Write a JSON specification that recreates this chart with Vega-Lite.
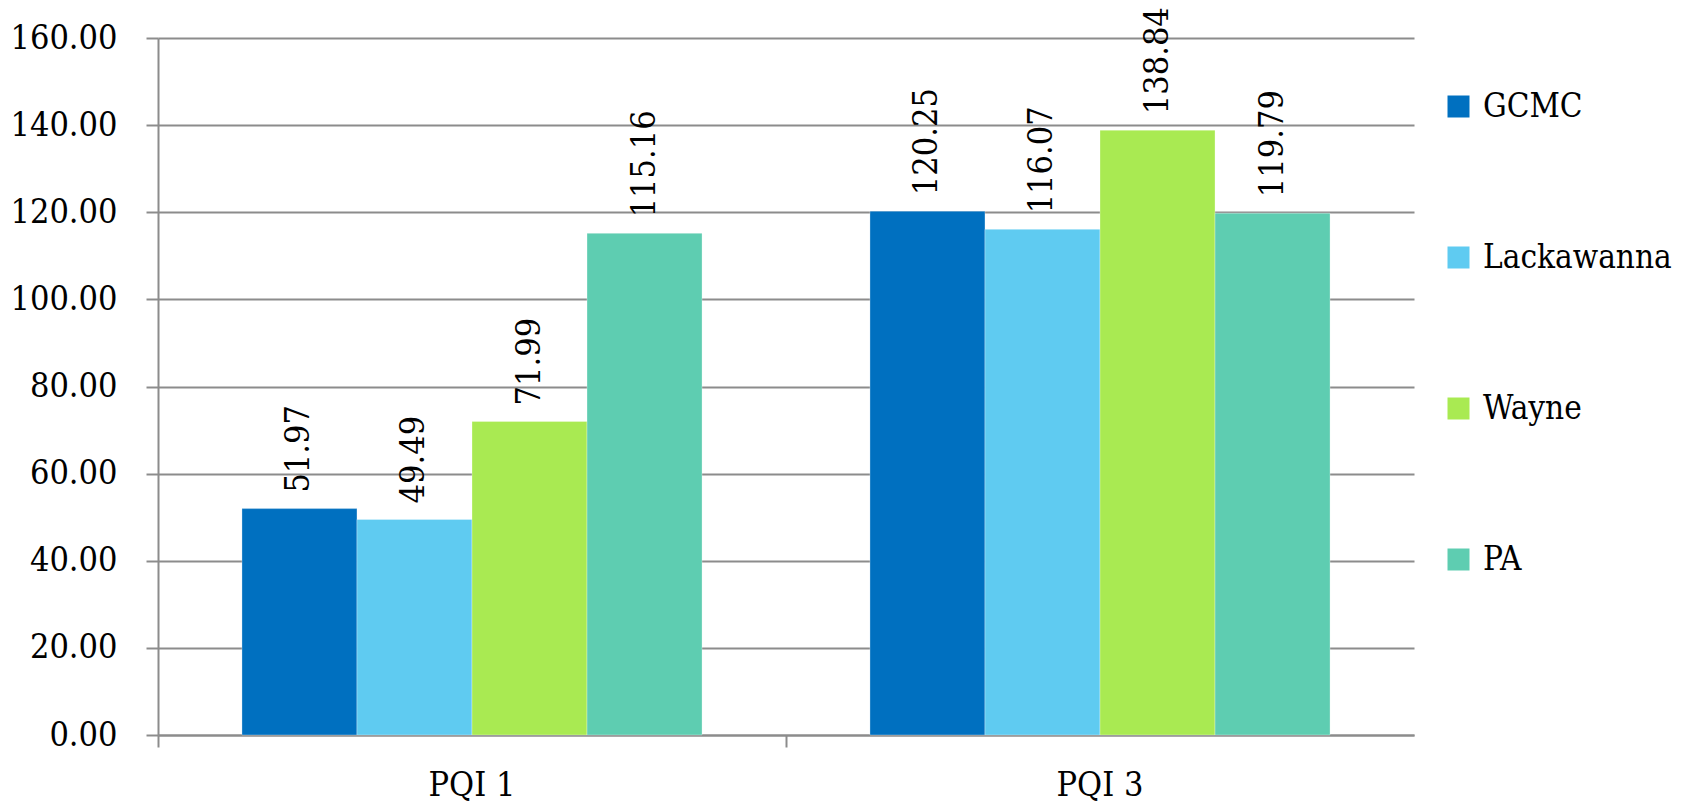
{
  "$schema": "https://vega.github.io/schema/vega-lite/v6.json",
  "width": 1256,
  "height": 697,
  "autosize": {"type": "none"},
  "padding": {"left": 158, "top": 38, "right": 288, "bottom": 73},
  "background": "white",
  "config": {
    "font": "DejaVu Serif Condensed",
    "view": {"stroke": null}
  },
  "data": {
    "values": [
      {"indicator": "PQI 1", "area": "GCMC", "rate": 51.97},
      {"indicator": "PQI 1", "area": "Lackawanna", "rate": 49.49},
      {"indicator": "PQI 1", "area": "Wayne", "rate": 71.99},
      {"indicator": "PQI 1", "area": "PA", "rate": 115.16},
      {"indicator": "PQI 3", "area": "GCMC", "rate": 120.25},
      {"indicator": "PQI 3", "area": "Lackawanna", "rate": 116.07},
      {"indicator": "PQI 3", "area": "Wayne", "rate": 138.84},
      {"indicator": "PQI 3", "area": "PA", "rate": 119.79}
    ]
  },
  "encoding": {
    "x": {
      "field": "indicator",
      "type": "nominal",
      "scale": {"paddingInner": 0, "paddingOuter": 0},
      "axis": {
        "title": null,
        "labelAngle": 0,
        "labelFont": "DejaVu Serif Condensed",
        "labelFontSize": 34,
        "labelColor": "#000000",
        "labelPadding": 21,
        "bandPosition": 0,
        "tickSize": 12,
        "tickColor": "#8c8c8c",
        "tickWidth": 2,
        "domainColor": "#8c8c8c",
        "domainWidth": 2
      }
    },
    "xOffset": {
      "field": "area",
      "type": "nominal",
      "sort": ["GCMC", "Lackawanna", "Wayne", "PA"],
      "scale": {"paddingInner": 0, "paddingOuter": 0.73}
    },
    "y": {
      "field": "rate",
      "type": "quantitative",
      "scale": {"domain": [0, 160], "nice": false},
      "axis": {
        "title": null,
        "values": [0, 20, 40, 60, 80, 100, 120, 140, 160],
        "format": ".2f",
        "labelFont": "DejaVu Serif Condensed",
        "labelFontSize": 34,
        "labelColor": "#000000",
        "labelPadding": 29,
        "tickSize": 12,
        "tickColor": "#8c8c8c",
        "tickWidth": 2,
        "domainColor": "#8c8c8c",
        "domainWidth": 2,
        "gridColor": "#8c8c8c",
        "gridWidth": 2
      }
    }
  },
  "layer": [
    {
      "mark": {"type": "bar", "stroke": "#ffffff", "strokeWidth": 0.5, "strokeOpacity": 0.6},
      "encoding": {
        "color": {
          "field": "area",
          "type": "nominal",
          "sort": ["GCMC", "Lackawanna", "Wayne", "PA"],
          "scale": {
            "domain": ["GCMC", "Lackawanna", "Wayne", "PA"],
            "range": ["#0070c0", "#5fcbf1", "#a9ea52", "#5ecdb1"]
          },
          "legend": {
            "title": null,
            "orient": "none",
            "legendX": 1284,
            "legendY": 52,
            "symbolType": "square",
            "symbolSize": 484,
            "symbolStrokeWidth": 0,
            "labelFont": "DejaVu Serif Condensed",
            "labelFontSize": 33,
            "labelColor": "#000000",
            "labelOffset": 8,
            "labelLimit": 400,
            "rowPadding": 117
          }
        }
      }
    },
    {
      "mark": {
        "type": "text",
        "angle": 270,
        "align": "left",
        "baseline": "middle",
        "dx": 16,
        "font": "DejaVu Serif Condensed",
        "fontSize": 34,
        "color": "#000000"
      },
      "encoding": {
        "text": {"field": "rate", "type": "quantitative", "format": ".2f"}
      }
    }
  ]
}
